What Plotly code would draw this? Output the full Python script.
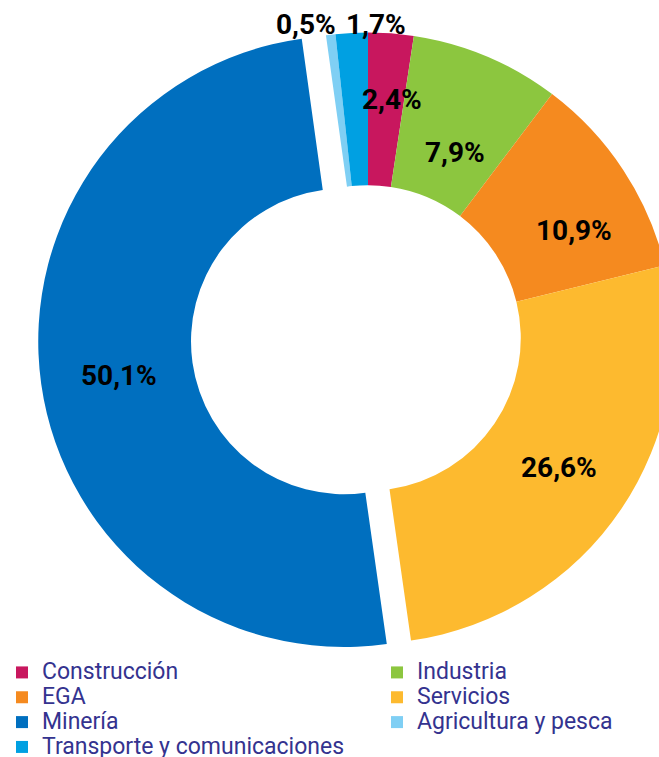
import math
import plotly.graph_objects as go

# ---- data ----
sectors = ["Construcción", "Industria", "EGA", "Servicios", "Minería",
           "Agricultura y pesca", "Transporte y comunicaciones"]
shares = [2.4, 7.9, 10.9, 26.6, 50.1, 0.5, 1.7]
colors = ["#C8175E", "#8CC63F", "#F58A1F", "#FDBA2F", "#006FBF",
          "#7FCFF4", "#00A0E2"]
pulls = [0, 0, 0, 0, 0.08, 0, 0]

# label placement style (radius as fraction of outer radius, angular nudge in degrees)
label_r = [0.785, 0.671, 0.761, 0.756, 0.745, 1.047, 1.028]
label_nudge = [1.4, 2.3, 5.7, 0.0, -0.5, -4.2, 4.6]

# ---- layout geometry (px) ----
W, H = 1520, 757
ML, MR, MT, MB = 38, 0, 8, 89
GW, GH = W - ML - MR, H - MT - MB
BOX = 660
dom_x = [0, BOX / GW]
dom_y = [0, 1]
R = BOX / (2 * (1 + max(pulls)))
HOLE = 0.5

fig = go.Figure(go.Pie(
    labels=[f'<span style="font-size:23px">{s}</span>' for s in sectors],
    values=shares,
    sort=False,
    direction="clockwise",
    rotation=0,
    hole=HOLE,
    pull=pulls,
    marker=dict(colors=colors, line=dict(width=0)),
    textinfo="none",
    hoverinfo="skip",
    domain=dict(x=dom_x, y=dom_y),
))

# pie centre in px (figure coords)
cx = ML + GW * (dom_x[0] + dom_x[1]) / 2
cy = MT + GH * (1 - (dom_y[0] + dom_y[1]) / 2)
total = sum(shares)
cum = 0
annotations = []
for i, v in enumerate(shares):
    mid = (cum + v / 2) / total * 360
    cum += v
    ang = math.radians(mid + label_nudge[i])
    ox = cx + pulls[i] * R * math.sin(math.radians(mid))
    oy = cy - pulls[i] * R * math.cos(math.radians(mid))
    px = ox + label_r[i] * R * math.sin(ang)
    py = oy - label_r[i] * R * math.cos(ang)
    annotations.append(dict(
        x=(px - ML) / GW, y=1 - (py - MT) / GH, xref="paper", yref="paper",
        text=f"{v:.1f}".replace(".", ",") + "%", showarrow=False,
        xanchor="center", yanchor="middle",
        font=dict(family="Roboto", size=28, color="#000000", weight="bold"),
    ))

leg_left = 2
leg_top = 655
fig.update_layout(
    width=W, height=H,
    margin=dict(l=ML, r=MR, t=MT, b=MB, autoexpand=False),
    paper_bgcolor="white", plot_bgcolor="white",
    annotations=annotations,
    showlegend=True,
    legend=dict(
        orientation="h", x=(leg_left - ML) / GW, xanchor="left",
        y=1 - (leg_top - MT) / GH, yanchor="top",
        entrywidth=330, entrywidthmode="pixels",
        font=dict(family="Roboto", size=16.8, color="#34338F"),
        bgcolor="rgba(0,0,0,0)", traceorder="normal",
        itemclick=False, itemdoubleclick=False,
    ),
)

fig.write_html(
    "out.html",
    post_script="document.body.style.margin='0';"
                "document.documentElement.style.overflow='hidden';",
)
